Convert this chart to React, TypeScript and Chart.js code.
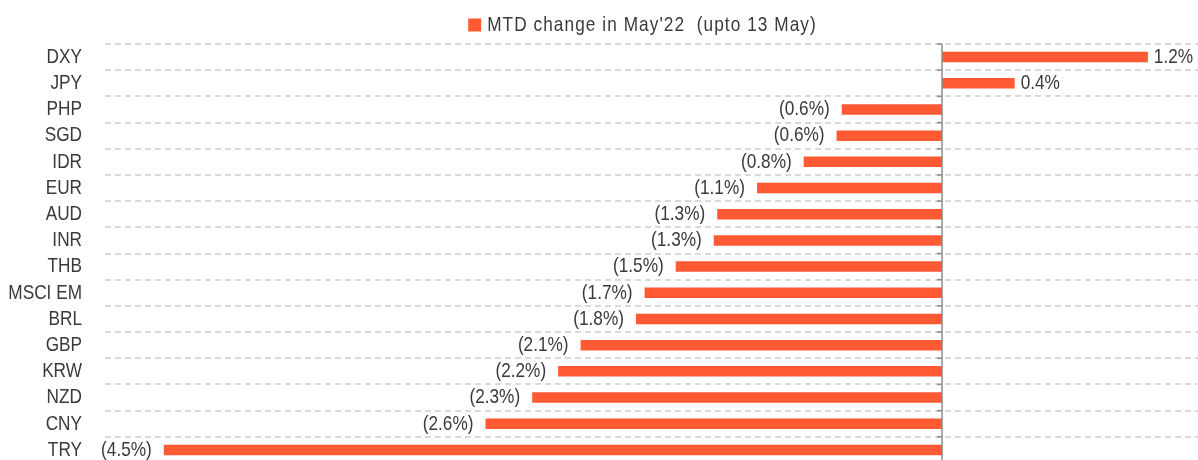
import React, { useEffect, useRef } from "react";
import { Chart, registerables } from "chart.js";

Chart.register(...registerables);

const categories = ["DXY", "JPY", "PHP", "SGD", "IDR", "EUR", "AUD", "INR", "THB", "MSCI EM", "BRL", "GBP", "KRW", "NZD", "CNY", "TRY"];
const mtdChange = [1.19, 0.42, -0.58, -0.61, -0.8, -1.07, -1.3, -1.32, -1.54, -1.72, -1.77, -2.09, -2.22, -2.37, -2.64, -4.5];
const valueLabels = ["1.2%", "0.4%", "(0.6%)", "(0.6%)", "(0.8%)", "(1.1%)", "(1.3%)", "(1.3%)", "(1.5%)", "(1.7%)", "(1.8%)", "(2.1%)", "(2.2%)", "(2.3%)", "(2.6%)", "(4.5%)"];
const seriesName = "MTD change in May'22  (upto 13 May)";

const BAR_COLOR = "#FF5A33";
const TEXT_COLOR = "#3a3a3a";
const FAMILY = "'Liberation Sans', Arial, sans-serif";
const SQUEEZE = 0.82;

function drawSqueezed(ctx: CanvasRenderingContext2D, text: string, x: number, y: number, size: number, align: CanvasTextAlign, spacing = 0) {
  ctx.save();
  ctx.translate(x, y);
  ctx.scale(SQUEEZE, 1);
  ctx.font = `${size}px ${FAMILY}`;
  (ctx as any).letterSpacing = `${spacing}px`;
  ctx.textAlign = align;
  ctx.textBaseline = "middle";
  ctx.fillText(text, 0, 0);
  ctx.restore();
}

export default function App() {
  const ref = useRef<HTMLCanvasElement | null>(null);

  useEffect(() => {
    if (!ref.current) return;

    const overlay = {
      id: "overlay",
      afterDatasetsDraw(chart: any) {
        const ctx = chart.ctx as CanvasRenderingContext2D;
        const area = chart.chartArea;
        const xs = chart.scales.x;
        const ys = chart.scales.y;
        const zx = xs.getPixelForValue(0);
        const step = ys.getPixelForValue(1) - ys.getPixelForValue(0);
        const n = categories.length;
        ctx.save();
        // zero axis line
        ctx.strokeStyle = "#8c8c8c";
        ctx.lineWidth = 1.5;
        ctx.beginPath();
        ctx.moveTo(zx, area.top);
        ctx.lineTo(zx, area.bottom);
        ctx.stroke();
        for (let i = 0; i <= n; i++) {
          const y = ys.getPixelForValue(0) + (i - 0.5) * step;
          ctx.beginPath();
          ctx.moveTo(zx - 5, y);
          ctx.lineTo(zx, y);
          ctx.stroke();
        }
        ctx.fillStyle = TEXT_COLOR;
        // category labels
        categories.forEach((c, i) => {
          drawSqueezed(ctx, c, area.left - 23, ys.getPixelForValue(i), 21, "right");
        });
        // value labels
        const meta = chart.getDatasetMeta(0);
        meta.data.forEach((bar: any, i: number) => {
          const v = mtdChange[i];
          if (v >= 0) drawSqueezed(ctx, valueLabels[i], bar.x + 6, bar.y, 21, "left");
          else drawSqueezed(ctx, valueLabels[i], bar.x - 12, bar.y, 21, "right");
        });
        // legend
        ctx.font = `21px ${FAMILY}`;
        (ctx as any).letterSpacing = "1.3px";
        const tw = ctx.measureText(seriesName).width * SQUEEZE;
        (ctx as any).letterSpacing = "0px";
        const box = 13;
        const gap = 6;
        const total = box + gap + tw;
        const cx = (area.left + area.right) / 2 - 9;
        const lx = cx - total / 2;
        const ly = 25;
        ctx.fillStyle = BAR_COLOR;
        ctx.fillRect(lx, ly - box / 2, box, box);
        ctx.fillStyle = TEXT_COLOR;
        drawSqueezed(ctx, seriesName, lx + box + gap, ly, 21, "left", 1.3);
        ctx.restore();
      },
    };

    const chart = new Chart(ref.current, {
      type: "bar",
      data: {
        labels: categories,
        datasets: [
          {
            label: seriesName,
            data: mtdChange,
            backgroundColor: BAR_COLOR,
            borderWidth: 0,
            barPercentage: 0.4,
            categoryPercentage: 1,
          },
        ],
      },
      options: {
        indexAxis: "y",
        responsive: false,
        animation: false,
        layout: { padding: { top: 44, right: 0, bottom: 0, left: 0 } },
        plugins: {
          legend: { display: false },
          tooltip: { enabled: false },
          title: { display: false },
        },
        scales: {
          x: {
            display: false,
            min: -4.84,
            max: 1.48,
          },
          y: {
            offset: true,
            grid: {
              offset: true,
              color: "#d9d9d9",
              lineWidth: 2,
              drawTicks: false,
            },
            border: { display: false, dash: [6, 4] },
            ticks: { display: false },
            afterFit: (scale: any) => {
              scale.width = 105;
            },
          },
        },
      },
      plugins: [overlay],
    } as any);
    return () => chart.destroy();
  }, []);

  return (
    <div style={{ position: "fixed", left: 0, top: 0, width: 1198, height: 463, background: "#fff" }}>
      <canvas ref={ref} width={1198} height={463} style={{ display: "block" }} />
    </div>
  );
}
